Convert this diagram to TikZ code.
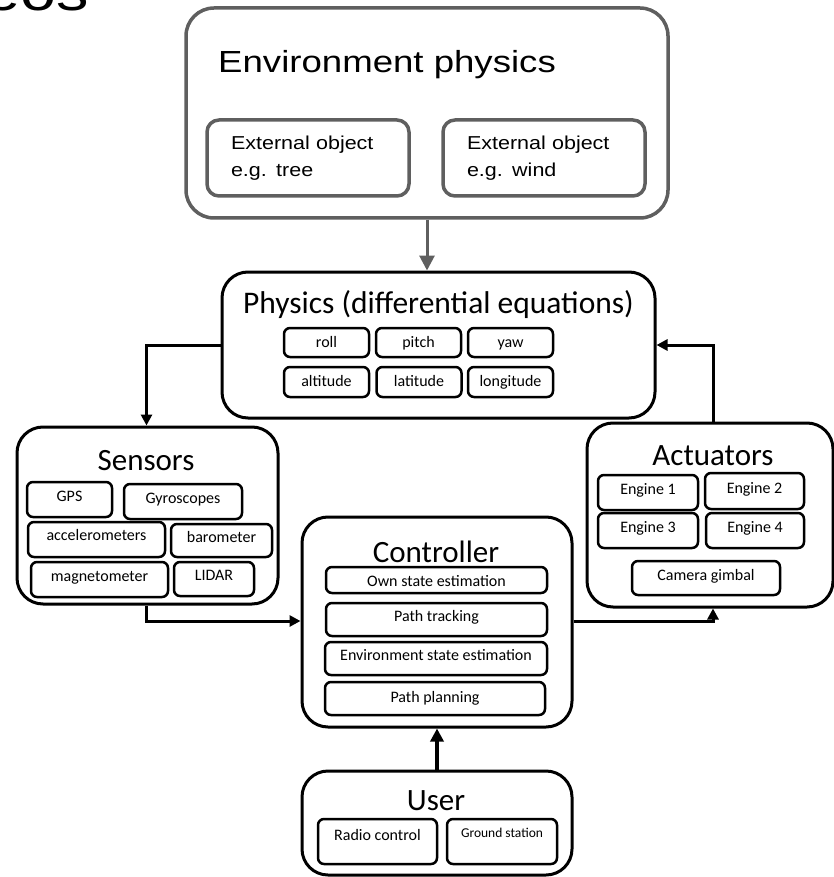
\documentclass[tikz,border=0pt]{standalone}
\usepackage{fontspec}
\setmainfont{Carlito}
\newfontfamily\widesans[FakeStretch=1.2]{Liberation Sans}
\newfontfamily\midsans[FakeStretch=1.15]{Liberation Sans}
\usetikzlibrary{arrows.meta}
\definecolor{envgray}{RGB}{95,95,95}
\tikzset{
  bigbox/.style={draw=black, line width=3pt, rounded corners=26pt, inner sep=0pt},
  envbox/.style={draw=envgray, line width=3.5pt, rounded corners=28pt, inner sep=0pt},
  extbox/.style={draw=envgray, line width=3.5pt, rounded corners=12pt, inner sep=0pt,
    minimum width=202pt, minimum height=76pt, align=left, text width=154pt,
    font=\midsans\fontsize{18.7}{26.5}\selectfont},
  title/.style={font=\fontsize{31}{36}\selectfont, inner sep=0pt, anchor=base},
  part/.style={draw=black, line width=2.5pt, rounded corners=6pt, inner sep=0pt,
    text height=12pt, text depth=3pt, font=\fontsize{16}{19}\selectfont},
  raised/.style={text depth=7.4pt},
  flow/.style={draw=black, line width=3pt, -{Triangle[length=11pt,width=11pt]}},
  feed/.style={draw=envgray, line width=3pt, -{Triangle[length=15pt,width=15pt]}},
  userflow/.style={draw=black, line width=4pt, -{Triangle[length=13pt,width=13pt]}}
}
\begin{document}
\begin{tikzpicture}[x=1pt,y=-1pt]
\useasboundingbox (0,0) rectangle (834,877);
\clip (0,0) rectangle (834,877);

% heading running off the top edge
\node[font=\widesans\fontsize{54}{60}\selectfont, anchor=base east, inner sep=0pt] (heading) at (89,11) {Videos};

% environment
\node[envbox, minimum width=482pt, minimum height=210pt] (env) at (427,113) {};
\node[font=\widesans\fontsize{30.5}{36}\selectfont, anchor=base west, inner sep=0pt] (envtitle) at (218,73) {Environment physics};
\node[extbox] (tree) at (308,158) {External object\\e.g. tree};
\node[extbox] (wind) at (544,158) {External object\\e.g. wind};

% physics model
\node[bigbox, minimum width=433pt, minimum height=146pt] (phys) at (438.5,345) {};
\node[title, font=\fontsize{31.5}{36}\selectfont] (phystitle) at (438.5,313) {Physics (differential equations)};
\node[part, minimum width=85pt, minimum height=29pt] (roll) at (326.5,342.5) {roll};
\node[part, minimum width=85pt, minimum height=29pt] (pitch) at (418.5,342.5) {pitch};
\node[part, minimum width=85pt, minimum height=29pt] (yaw) at (510.5,342.5) {yaw};
\node[part, minimum width=85pt, minimum height=30pt] (alt) at (326.5,382) {altitude};
\node[part, minimum width=85pt, minimum height=30pt] (lat) at (419,382) {latitude};
\node[part, minimum width=85pt, minimum height=30pt] (lon) at (510.5,382) {longitude};

% sensors
\node[bigbox, minimum width=261pt, minimum height=177pt] (sens) at (147.5,515.5) {};
\node[title] (senstitle) at (146,470) {Sensors};
\node[part, raised, minimum width=85pt, minimum height=35pt] (gps) at (69.5,499.5) {GPS};
\node[part, raised, minimum width=118pt, minimum height=35pt] (gyro) at (183,501.5) {Gyroscopes};
\node[part, raised, minimum width=137pt, minimum height=35pt, text depth=9.5pt] (acc) at (96.5,539.5) {accelerometers};
\node[part, raised, minimum width=101pt, minimum height=33pt] (baro) at (221.5,540.5) {barometer};
\node[part, raised, minimum width=137pt, minimum height=35pt] (mag) at (99.5,579.5) {magnetometer};
\node[part, raised, minimum width=80pt, minimum height=34pt, text depth=9.5pt] (lidar) at (214,579) {LIDAR};

% actuators
\node[bigbox, minimum width=246pt, minimum height=184pt] (act) at (710,515) {};
\node[title] (acttitle) at (713,465) {Actuators};
\node[part, raised, minimum width=100pt, minimum height=35pt] (eng1) at (648,492.5) {Engine 1};
\node[part, raised, minimum width=99pt, minimum height=36pt] (eng2) at (754.5,491) {Engine 2};
\node[part, raised, minimum width=100pt, minimum height=35pt] (eng3) at (648,530.5) {Engine 3};
\node[part, raised, minimum width=98pt, minimum height=35pt] (eng4) at (755,530.5) {Engine 4};
\node[part, raised, minimum width=148pt, minimum height=34pt] (gimbal) at (706,578) {Camera gimbal};

% controller
\node[bigbox, minimum width=270pt, minimum height=210pt] (ctrl) at (437,622) {};
\node[title] (ctrltitle) at (436,562) {Controller};
\node[part, minimum width=221pt, minimum height=26pt, text height=12pt, text depth=0pt] (own) at (436.5,580) {Own state estimation};
\node[part, raised, minimum width=221pt, minimum height=33pt] (track) at (436.5,619.5) {Path tracking};
\node[part, raised, minimum width=222pt, minimum height=33pt] (envest) at (436,658.5) {Environment state estimation};
\node[part, minimum width=220pt, minimum height=33pt, text depth=3.6pt] (plan) at (435,698.5) {Path planning};

% user
\node[bigbox, minimum width=270pt, minimum height=104pt] (user) at (437,823) {};
\node[title] (usertitle) at (436,810) {User};
\node[part, minimum width=119pt, minimum height=45pt, text depth=15pt] (radio) at (377.5,841.5) {Radio control};
\node[part, minimum width=110pt, minimum height=45pt, text depth=21pt, font=\fontsize{13.5}{16}\selectfont] (ground) at (502,841.5) {Ground station};

% signal flow
\draw[feed] (env.south) -- (env.south |- phys.north);
\draw[flow] (phys.west) -| ([xshift=-1pt]sens.north);
\draw[flow] ([xshift=3pt]act.north) |- (phys.east);
\draw[flow] ([xshift=-1pt]sens.south) |- ([yshift=1pt]ctrl.west);
\draw[flow] ([yshift=1pt]ctrl.east) -| ([xshift=3pt]act.south);
\draw[userflow] (user.north) -- (ctrl.south);
\end{tikzpicture}
\end{document}
